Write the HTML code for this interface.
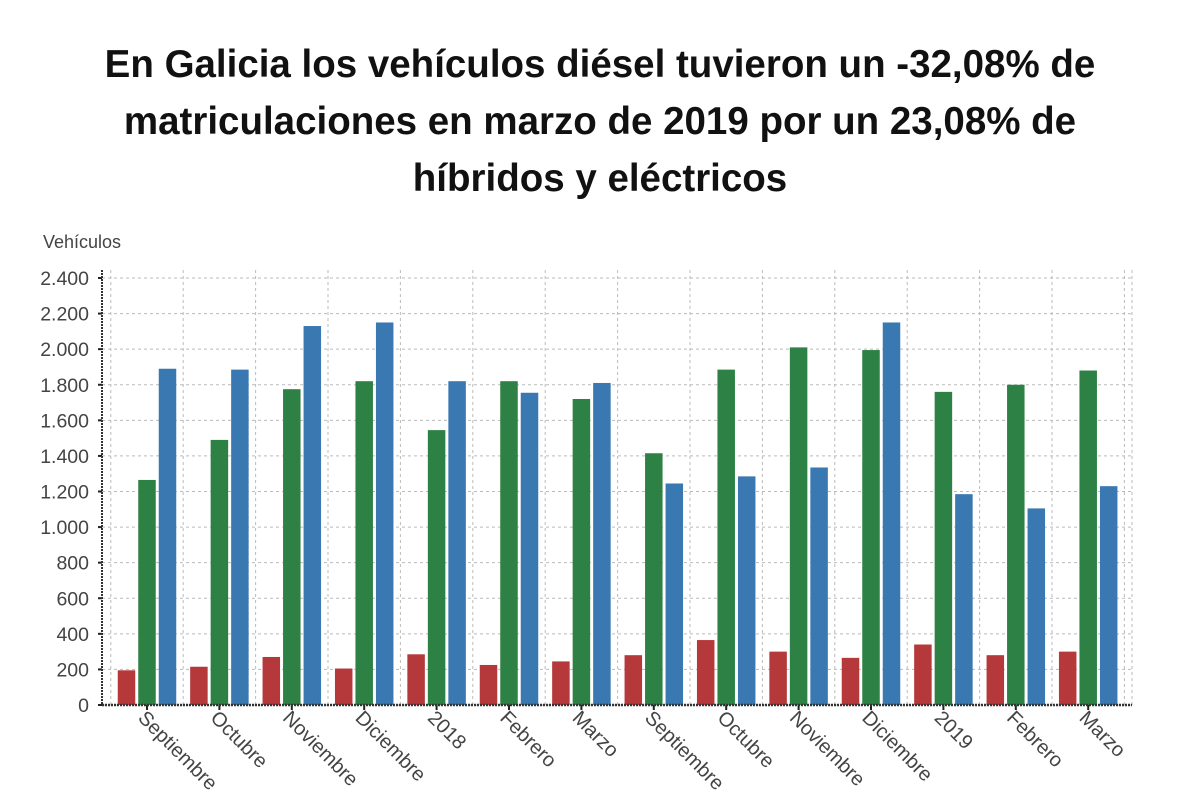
<!DOCTYPE html>
<html><head><meta charset="utf-8"><style>
body{margin:0;background:#fff;width:1200px;height:808px;overflow:hidden;font-family:"Liberation Sans",sans-serif}
#title{position:absolute;left:0;top:36px;width:1200px;text-align:center;font-weight:bold;font-size:38.5px;line-height:57px;color:#111}
</style></head><body>
<div id="title">En Galicia los vehículos diésel tuvieron un -32,08% de<br>matriculaciones en marzo de 2019 por un 23,08% de<br>híbridos y eléctricos</div>
<svg id="chart" width="1200" height="808" style="position:absolute;left:0;top:0"></svg>
<script>
const categories=["Septiembre","Octubre","Noviembre","Diciembre","2018","Febrero","Marzo","Septiembre","Octubre","Noviembre","Diciembre","2019","Febrero","Marzo"];
const diesel=[195,215,270,205,285,225,245,280,365,300,265,340,280,300];
const gasolina=[1265,1490,1775,1820,1545,1820,1720,1415,1885,2010,1995,1760,1800,1880];
const otros=[1890,1885,2130,2150,1820,1755,1810,1245,1285,1335,2150,1185,1105,1230];
const yTicks=[0,200,400,600,800,1000,1200,1400,1600,1800,2000,2200,2400];
const yTickLabels=["0","200","400","600","800","1.000","1.200","1.400","1.600","1.800","2.000","2.200","2.400"];
const svg=document.getElementById('chart');const NS='http://www.w3.org/2000/svg';
const L=102,R=1132,T=278,B=705,yMax=2400;
const step=72.4,x0=147;
function y(v){return B-(v/yMax)*(B-T);}
function xc(i){return x0+i*step;}
function mk(t,a,name){const e=document.createElementNS(NS,t);for(const k in a)e.setAttribute(k,a[k]);


svg.appendChild(e);return e;}
yTicks.forEach((v,i)=>{
 mk('line',{x1:L,x2:R,y1:y(v),y2:y(v),stroke:'#bbb','stroke-dasharray':'3,3'},'y-gridline');
 const t=mk('text',{x:89,y:y(v)+7,'text-anchor':'end','font-size':19.5,fill:'#444'},'y-tick-label');t.textContent=yTickLabels[i];
 mk('line',{x1:L-4,x2:L,y1:y(v),y2:y(v),stroke:'#222','stroke-width':2},'y-tick');
});
for(let i=0;i<=categories.length;i++){const gx=x0-step/2+i*step;if(gx>L+2&&gx<R-2)mk('line',{x1:gx,x2:gx,y1:T-8,y2:B,stroke:'#bbb','stroke-dasharray':'3,3'},'x-gridline');}
mk('line',{x1:R,x2:R,y1:T-8,y2:B,stroke:'#bbb','stroke-dasharray':'3,3'},'plot-border');
const series=[[diesel,'#b5393b','bar-diesel'],[gasolina,'#2e8144','bar-gasolina'],[otros,'#3a78b2','bar-hibridos']];
const bw=17.5,gap=3;
categories.forEach((c,i)=>{
 series.forEach((s,j)=>{const v=s[0][i];const bx=xc(i)+(j-1)*(bw+gap)-bw/2;
  mk('rect',{x:bx,y:y(v),width:bw,height:B-y(v),fill:s[1]},s[2]);});
 mk('line',{x1:xc(i),x2:xc(i),y1:B,y2:B+5,stroke:'#222','stroke-width':2},'x-tick');
 const t=mk('text',{x:xc(i)-10,y:B+14,'font-size':20,fill:'#444',transform:`rotate(45 ${xc(i)-10} ${B+14})`},'x-tick-label');t.textContent=c;
});
mk('line',{x1:L,x2:L,y1:T-8,y2:B,stroke:'#333','stroke-width':2,'stroke-dasharray':'2,1'},'y-axis-line');
mk('line',{x1:L,x2:R,y1:B,y2:B,stroke:'#333','stroke-width':2.5,'stroke-dasharray':'2,1'},'x-axis-line');
const yt=mk('text',{x:43,y:248,'font-size':18,fill:'#444'},'y-axis-title');yt.textContent='Vehículos';
</script>
</body></html>
